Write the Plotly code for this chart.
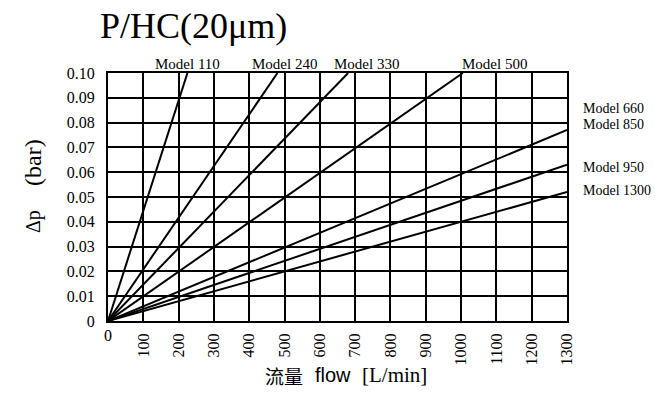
import plotly.graph_objects as go

# ---- data ----
models = ["Model 110", "Model 240", "Model 330", "Model 500", "Model 660/850", "Model 950", "Model 1300"]
end_flow = [225, 480, 680, 1005, 1300, 1300, 1300]
end_dp = [0.10, 0.10, 0.10, 0.10, 0.077, 0.063, 0.052]

x_ticks = [100, 200, 300, 400, 500, 600, 700, 800, 900, 1000, 1100, 1200, 1300]
y_ticks = [0, 0.01, 0.02, 0.03, 0.04, 0.05, 0.06, 0.07, 0.08, 0.09, 0.10]
y_ticktext = ["0", "0.01", "0.02", "0.03", "0.04", "0.05", "0.06", "0.07", "0.08", "0.09", "0.10"]

top_labels = ["Model 110", "Model 240", "Model 330", "Model 500"]
top_label_x = [224, 500, 733, 1096]
right_labels = ["Model 660", "Model 850", "Model 950", "Model 1300"]
right_label_y = [0.0855, 0.0791, 0.0617, 0.0528]

SERIF = "Liberation Serif, DejaVu Serif, serif"

# plot-area geometry (pixels) used to place free text
L, T, W, H = 108, 73, 459, 248


def px(x):
    return (x - L) / W


def py(y):
    return (T + H - y) / H


fig = go.Figure()
for name, fx, dy in zip(models, end_flow, end_dp):
    fig.add_trace(go.Scatter(x=[0, fx], y=[0, dy], mode="lines", name=name,
                             line=dict(color="black", width=2), showlegend=False,
                             hoverinfo="skip"))

ann = []
for t, x in zip(top_labels, top_label_x):
    ann.append(dict(text=t, x=x, xref="x", y=1, yref="paper", yanchor="bottom",
                    xanchor="center", yshift=-1, showarrow=False,
                    font=dict(family=SERIF, size=15, color="black")))
for t, y in zip(right_labels, right_label_y):
    ann.append(dict(text=t, x=1, xref="paper", xshift=14, y=y, yref="y",
                    xanchor="left", yanchor="middle", showarrow=False,
                    font=dict(family=SERIF, size=14, color="black")))
# "0" label on x-axis (horizontal)
ann.append(dict(text="0", x=0, xref="x", y=0, yref="y", yanchor="top", xanchor="center",
                yshift=-4, showarrow=False, font=dict(family=SERIF, size=16, color="black")))
# x-axis title, three pieces in different type faces
ann.append(dict(text="流量", x=px(305), xref="paper", y=py(375), yref="paper",
                xanchor="right", yanchor="middle", showarrow=False,
                font=dict(family="Noto Sans CJK SC", size=19, color="black")))
ann.append(dict(text="flow", x=px(313), xref="paper", y=py(375), yref="paper",
                xanchor="left", yanchor="middle", showarrow=False,
                font=dict(family="Liberation Sans Narrow, Liberation Sans", size=20, color="black")))
ann.append(dict(text="[L/min]", x=px(360), xref="paper", y=py(375), yref="paper",
                xanchor="left", yanchor="middle", showarrow=False,
                font=dict(family=SERIF, size=21, color="black")))
# y-axis title, in two pieces
ann.append(dict(text="Δp", x=px(33), xref="paper", y=py(222), yref="paper",
                xanchor="center", yanchor="middle", textangle=-90,
                showarrow=False, font=dict(family=SERIF, size=20, color="black")))
ann.append(dict(text="(bar)", x=px(33), xref="paper", y=py(163), yref="paper",
                xanchor="center", yanchor="middle", textangle=-90,
                showarrow=False, font=dict(family=SERIF, size=24, color="black")))

fig.update_layout(
    width=655, height=393,
    margin=dict(l=L, r=655 - L - W, t=T, b=393 - T - H),
    paper_bgcolor="white", plot_bgcolor="white",
    title=dict(text="P/HC(20μm)", x=100 / 655, xanchor="left", xref="container",
               y=1 - 25 / 393, yanchor="middle", yref="container",
               font=dict(family=SERIF, size=36, color="black")),
    annotations=ann,
    xaxis=dict(range=[0, 1300], tickvals=x_ticks, ticktext=[str(v) for v in x_ticks],
               tickangle=-90, showgrid=True, gridcolor="black", gridwidth=2,
               showline=True, linecolor="black", linewidth=2, mirror=True,
               zeroline=False, ticks="", ticklabelstandoff=4,
               tickfont=dict(family=SERIF, size=16, color="black")),
    yaxis=dict(range=[0, 0.1], tickvals=y_ticks, ticktext=y_ticktext,
               showgrid=True, gridcolor="black", gridwidth=2,
               showline=True, linecolor="black", linewidth=2, mirror=True,
               zeroline=False, ticks="", ticklabelstandoff=8,
               tickfont=dict(family=SERIF, size=16, color="black")),
)

fig.write_html("out.html")
